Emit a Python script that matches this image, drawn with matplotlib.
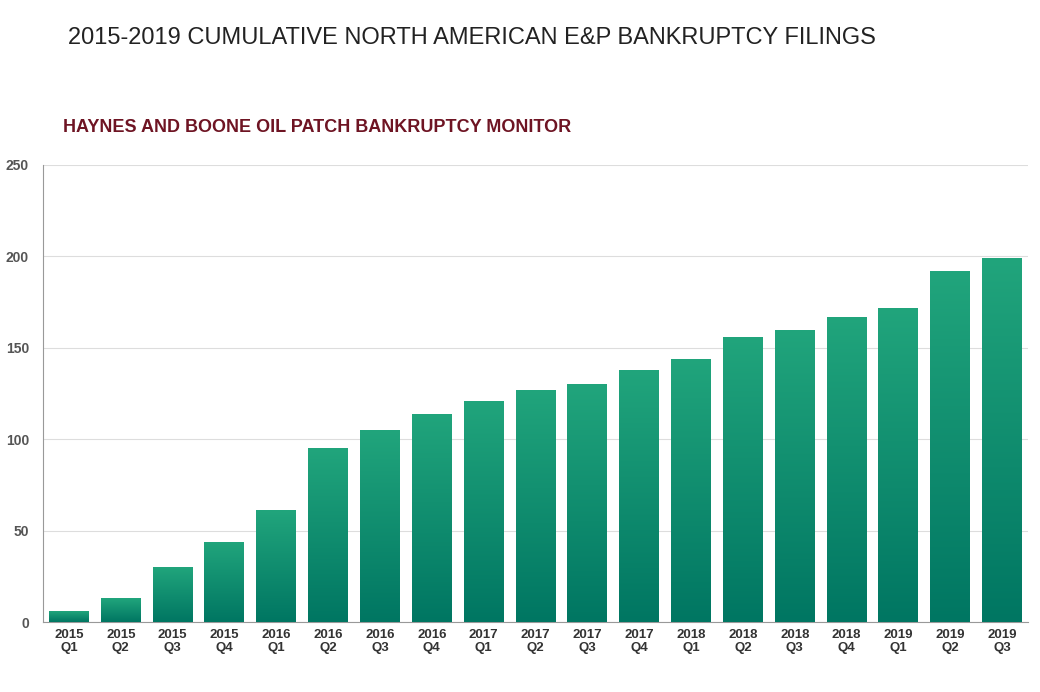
import numpy as np
import matplotlib
matplotlib.use("Agg")
import matplotlib.pyplot as plt

plt.rcParams['font.family'] = ['Liberation Sans', 'DejaVu Sans']

# Quarterly cumulative filings
years = ["2015"] * 4 + ["2016"] * 4 + ["2017"] * 4 + ["2018"] * 4 + ["2019"] * 3
quarters = ["Q1", "Q2", "Q3", "Q4"] * 4 + ["Q1", "Q2", "Q3"]
filings = [6, 13, 30, 44, 61, 95, 105, 114, 121, 127, 130, 138,
           144, 156, 160, 167, 172, 192, 199]
y_ticks = [0, 50, 100, 150, 200, 250]

labels = [f"{y}\n{q}" for y, q in zip(years, quarters)]
x = np.arange(len(filings))

fig = plt.figure(figsize=(10.4, 6.92), dpi=100)
ax = fig.add_axes([43 / 1040, 1 - 622 / 692, (1028 - 43) / 1040, (622 - 165) / 692])

bars = ax.bar(x, filings, width=0.77, color="#15906f", zorder=2)

# vertical gradient inside each bar, dark at the base, light at the top
grad = np.linspace(0, 1, 256).reshape(-1, 1)
cmap = matplotlib.colors.LinearSegmentedColormap.from_list("g", ["#007662", "#21a57c"])
for b in bars:
    bx = b.get_x()
    w, h = b.get_width(), b.get_height()
    im = ax.imshow(grad, cmap=cmap, aspect="auto", origin="lower",
                   extent=[bx, bx + w, 0, h], zorder=3)
    im.set_clip_path(b)

ax.set_xlim(-0.5, len(filings) - 0.5)
ax.set_ylim(0, 250)
ax.set_yticks(y_ticks)
ax.set_xticks(x)
ax.set_xticklabels(labels, fontsize=9.5, fontweight="bold", color="#333333", linespacing=1.15)
ax.tick_params(axis="y", labelsize=10, labelcolor="#555555", length=0, pad=10)
ax.tick_params(axis="x", length=0, pad=5)
for lbl in ax.get_yticklabels():
    lbl.set_fontweight("bold")

ax.grid(axis="y", color="#dddddd", linewidth=0.8, zorder=0)
ax.set_axisbelow(True)
for s in ["top", "right"]:
    ax.spines[s].set_visible(False)
ax.spines["left"].set_color("#999999")
ax.spines["bottom"].set_color("#999999")

fig.text(68 / 1040, 1 - 38 / 692, "2015-2019 CUMULATIVE NORTH AMERICAN E&P BANKRUPTCY FILINGS",
         fontsize=17, color="#222222", va="center", ha="left")
fig.text(63 / 1040, 1 - 127 / 692, "HAYNES AND BOONE OIL PATCH BANKRUPTCY MONITOR",
         fontsize=13, color="#6e1423", fontweight="bold", va="center", ha="left")

fig.savefig("out.png", dpi=100, facecolor="white")
